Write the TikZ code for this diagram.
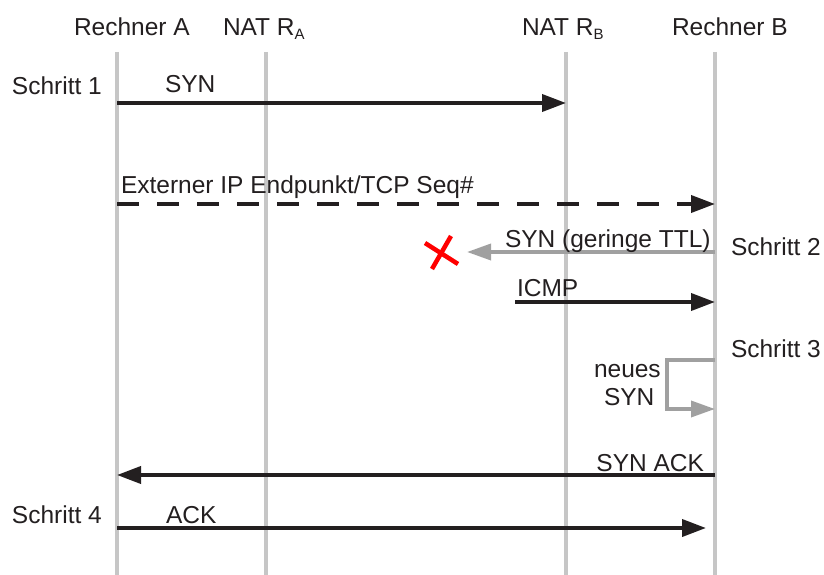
\documentclass[tikz,border=0pt]{standalone}
\usepackage{fontspec}
\setmainfont{Liberation Sans}
\usetikzlibrary{arrows.meta}
\definecolor{ink}{HTML}{231F20}
\definecolor{life}{HTML}{C6C6C6}
\definecolor{garrow}{HTML}{A0A0A0}
\definecolor{xred}{HTML}{FF0000}
\newcommand{\subsc}[1]{\raisebox{-4pt}{\fontsize{15}{15}\selectfont #1}}
\begin{document}
\begin{tikzpicture}[x=1pt,y=-1pt,
  lbl/.style={anchor=base west, inner sep=0pt, outer sep=0pt, text=ink, font=\fontsize{24.5}{28}\selectfont},
  lifeline/.style={draw=life, line width=3.5pt},
  msg/.style={draw=ink, line width=3.8pt, -{Triangle[length=24pt,width=17pt]}},
  gmsg/.style={draw=garrow, line width=3.5pt, -{Triangle[length=24pt,width=16pt]}},
  dmsg/.style={msg, dash pattern=on 22pt off 18pt},
  cross/.style={draw=xred, line width=4.5pt}]
\useasboundingbox (0,0) rectangle (824,575);
% headers
\node[lbl] (hA) at (74,36) {Rechner A};
\node[lbl] (hRA) at (223,36) {NAT R\subsc{A}};
\node[lbl] (hRB) at (522,36) {NAT R\subsc{B}};
\node[lbl] (hB) at (672,36) {Rechner B};
% lifelines
\coordinate (a0) at (117,52);  \coordinate (a1) at (117,575);
\coordinate (ra0) at (266,52); \coordinate (ra1) at (266,575);
\coordinate (rb0) at (566,52); \coordinate (rb1) at (566,575);
\coordinate (b0) at (715,52);  \coordinate (b1) at (715,575);
\draw[lifeline] (a0) -- (a1);
\draw[lifeline] (ra0) -- (ra1);
\draw[lifeline] (rb0) -- (rb1);
\draw[lifeline] (b0) -- (b1);
% step labels
\node[lbl] (s1) at (12,95) {Schritt 1};
\node[lbl] (s2) at (731,255) {Schritt 2};
\node[lbl] (s3) at (731,357) {Schritt 3};
\node[lbl] (s4) at (12,523) {Schritt 4};
% Schritt 1: SYN
\coordinate (m1a) at (117,103); \coordinate (m1b) at (566,103);
\draw[msg] (m1a) -- (m1b);
\node[lbl] (t1) at (165,93) {SYN};
% dashed
\coordinate (m2a) at (117,204); \coordinate (m2b) at (715,204);
\draw[dmsg] (m2a) -- (m2b);
\node[lbl] (t2) at (121,193) {Externer IP Endpunkt/TCP Seq\#};
% gray SYN
\coordinate (m3a) at (715,252); \coordinate (m3b) at (467,252);
\draw[gmsg] (m3a) -- (m3b);
\node[lbl] (t3) at (505,247) {SYN (geringe TTL)};
% red cross
\coordinate (x1) at (425,243); \coordinate (x2) at (458,264);
\coordinate (x3) at (451,236); \coordinate (x4) at (432,269);
\draw[cross] (x1) -- (x2);
\draw[cross] (x3) -- (x4);
% ICMP
\coordinate (m4a) at (515,302); \coordinate (m4b) at (715,302);
\draw[msg] (m4a) -- (m4b);
\node[lbl] (t4) at (517,296) {ICMP};
% loop neues SYN
\coordinate (l0) at (715,360); \coordinate (l1) at (667,360);
\coordinate (l2) at (667,409); \coordinate (l3) at (715,409);
\draw[gmsg, line join=miter] (l0) -- (l1) -- (l2) -- (l3);
\node[lbl] (t5) at (594,377) {neues};
\node[lbl] (t6) at (604,405) {SYN};
% SYN ACK
\coordinate (m5a) at (715,475); \coordinate (m5b) at (117,475);
\draw[msg] (m5a) -- (m5b);
\node[lbl, anchor=base east] (t7) at (704,471) {SYN ACK};
% ACK
\coordinate (m6a) at (117,528); \coordinate (m6b) at (706,528);
\draw[msg] (m6a) -- (m6b);
\node[lbl] (t8) at (166,523) {ACK};
\end{tikzpicture}
\end{document}
